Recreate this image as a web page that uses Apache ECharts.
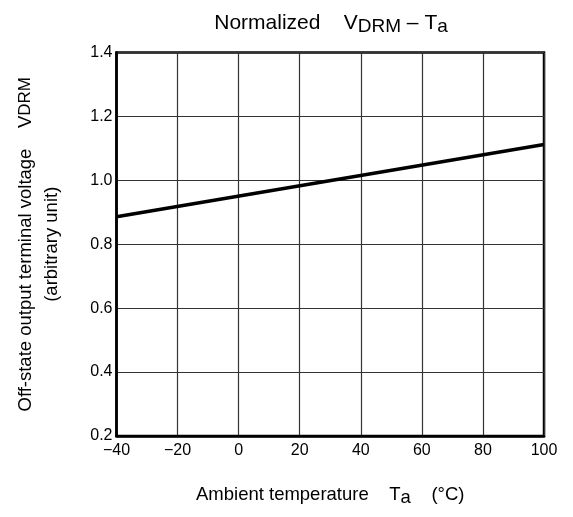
<!DOCTYPE html>
<html>
<head>
<meta charset="utf-8">
<script src="https://cdn.jsdelivr.net/npm/echarts@6/dist/echarts.min.js"></script>
<style>
  html, body { margin: 0; padding: 0; background: #fff; }
  #chart { width: 573px; height: 517px; }
</style>
</head>
<body>
<div id="chart"></div>
<script>
// ambient temperature (°C) and normalized VDRM
const temps = [-40, 100]
const vdrm = [0.886, 1.112]

const xTicks = [-40, -20, 0, 20, 40, 60, 80, 100]
const yTicks = [0.2, 0.4, 0.6, 0.8, 1.0, 1.2, 1.4]

const font = 'Liberation Sans, Arial, sans-serif'

const myChart = echarts.init(document.getElementById('chart'))
myChart.setOption({
  animation: false,
  title: {
    text: '{n|Normalized    V}{s|DRM}{n| – T}{s|a}',
    left: 326,
    textAlign: 'center',
    top: 6,
    textStyle: {
      fontWeight: 'normal',
      rich: {
        n: { fontFamily: font, fontSize: 21, fontWeight: 'normal', color: '#000' },
        s: { fontFamily: font, fontSize: 19, fontWeight: 'normal', color: '#000', padding: [6, 0, 0, 0] },
      },
    },
  },
  grid: {
    left: 116.5,
    right: 29,
    top: 52.5,
    bottom: 81,
    show: true,
    borderColor: '#000',
    borderWidth: 2.5,
  },
  xAxis: {
    type: 'value',
    min: xTicks[0],
    max: xTicks[xTicks.length - 1],
    interval: 20,
    axisLine: { onZero: false, lineStyle: { color: '#000', width: 2.5 } },
    axisTick: { show: false },
    splitLine: { lineStyle: { color: '#333', width: 1.2 } },
    axisLabel: {
      margin: 7,
      fontFamily: font,
      fontSize: 16,
      color: '#000',
      formatter: (v) => String(v).replace('-', '\u2212'),
    },
    name: '{n|Ambient temperature    T}{s|a}{n|    (°C)}',
    nameLocation: 'middle',
    nameGap: 46,
    nameTextStyle: {
      rich: {
        n: { fontFamily: font, fontSize: 18.5, color: '#000' },
        s: { fontFamily: font, fontSize: 18.5, color: '#000', padding: [6, 0, 0, 0] },
      },
    },
  },
  yAxis: {
    type: 'value',
    min: yTicks[0],
    max: yTicks[yTicks.length - 1],
    interval: 0.2,
    axisLine: { show: true, onZero: false, lineStyle: { color: '#000', width: 2.5 } },
    axisTick: { show: false },
    splitLine: { lineStyle: { color: '#333', width: 1.2 } },
    axisLabel: {
      margin: 4,
      fontFamily: font,
      fontSize: 16,
      color: '#000',
      formatter: (v) => v.toFixed(1),
    },
    name: '{n|Off-state output terminal voltage    V}{s|DRM}\n{n|(arbitrary unit)}',
    nameLocation: 'middle',
    nameGap: 52,
    nameRotate: 90,
    nameTextStyle: {
      lineHeight: 26,
      rich: {
        n: { fontFamily: font, fontSize: 18.5, color: '#000', lineHeight: 26 },
        s: { fontFamily: font, fontSize: 17, color: '#000', lineHeight: 26 },
      },
    },
  },
  series: [
    {
      type: 'line',
      data: temps.map((t, i) => [t, vdrm[i]]),
      showSymbol: false,
      lineStyle: { color: '#000', width: 3.5 },
    },
  ],
})
</script>
</body>
</html>
